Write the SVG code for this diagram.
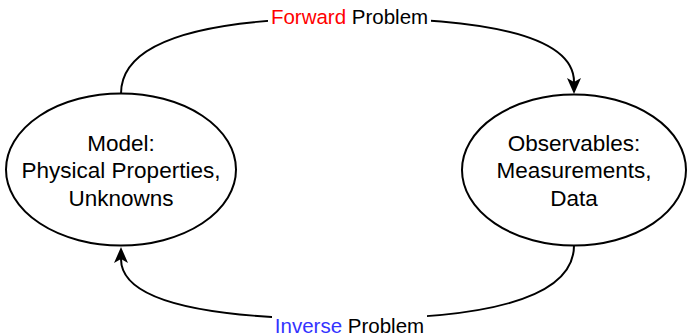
<svg xmlns="http://www.w3.org/2000/svg" width="687" height="335" viewBox="0 0 687 335">
  <style>
    .node { fill: #ffffff; stroke: #000000; stroke-width: 2; }
    .node-text { font-family: "Liberation Sans", Arial, Helvetica, sans-serif; font-size: 22.5px; fill: #000000; text-anchor: middle; }
    .edge { fill: none; stroke: #000000; stroke-width: 2; }
    .edge-label { font-family: "Liberation Sans", Arial, Helvetica, sans-serif; font-size: 20.5px; fill: #000000; text-anchor: middle; }
    .label-bg { fill: #ffffff; stroke: none; }
    .fwd { fill: #ff0000; }
    .inv { fill: #3333ff; }
  </style>
  <defs>
    <marker id="arrow" viewBox="0 0 16 14" refX="4" refY="7" markerWidth="16" markerHeight="14" markerUnits="userSpaceOnUse" orient="auto">
      <path d="M0,0 L16,7 L0,14 L4,7 Z" fill="#000000"/>
    </marker>
  </defs>

  <rect x="0" y="0" width="687" height="335" fill="#ffffff"/>

  <!-- connectors -->
  <g id="edges">
    <g id="edge-forward">
      <path class="edge" d="M121 93.5 Q121 18 347.5 18 Q574 18 574 82" marker-end="url(#arrow)"/>
      <rect class="label-bg" x="268" y="5" width="163" height="26"/>
      <text class="edge-label" x="349.5" y="23.5"><tspan class="fwd">Forward</tspan> Problem</text>
    </g>
    <g id="edge-inverse">
      <path class="edge" d="M574 245.5 Q574 319 347.5 319 Q121 319 121 259" marker-end="url(#arrow)"/>
      <rect class="label-bg" x="272" y="306" width="155" height="29"/>
      <text class="edge-label" x="349.5" y="333"><tspan class="inv">Inverse</tspan> Problem</text>
    </g>
  </g>

  <!-- left node -->
  <g id="node-model">
    <ellipse class="node" cx="121" cy="169.5" rx="115" ry="76"/>
    <text class="node-text" x="121" y="150.5">Model:</text>
    <text class="node-text" x="121" y="178">Physical Properties,</text>
    <text class="node-text" x="121" y="205.5">Unknowns</text>
  </g>

  <!-- right node -->
  <g id="node-observables">
    <ellipse class="node" cx="574" cy="170" rx="112" ry="75.5"/>
    <text class="node-text" x="574" y="150.5">Observables:</text>
    <text class="node-text" x="574" y="178">Measurements,</text>
    <text class="node-text" x="574" y="205.5">Data</text>
  </g>
</svg>
